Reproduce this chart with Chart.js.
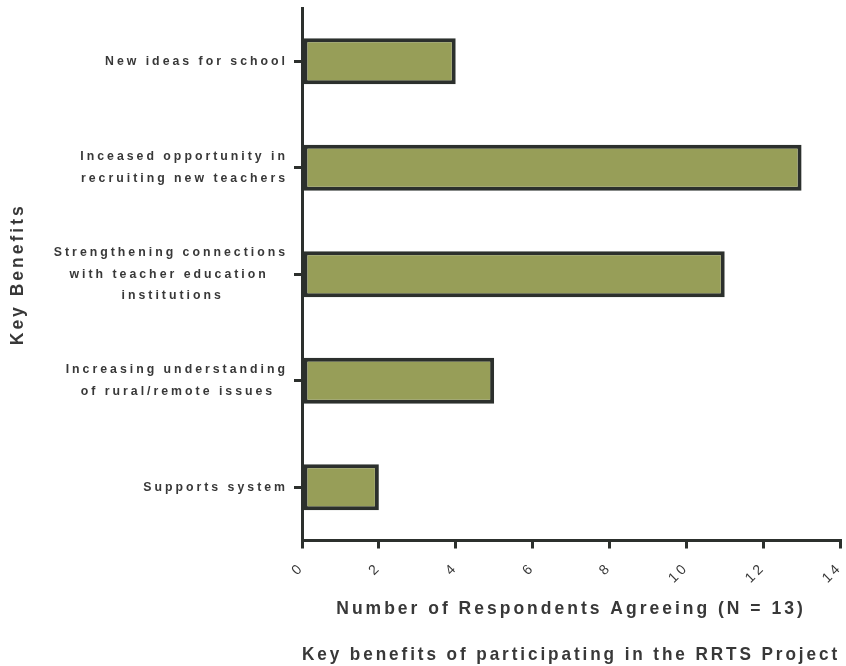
<!DOCTYPE html>
<html>
<head>
<meta charset="utf-8">
<script src="https://cdn.jsdelivr.net/npm/chart.js@4"></script>
<style>
  html, body { margin: 0; padding: 0; background: #fff; }
  #wrap { width: 846px; height: 666px; }
</style>
</head>
<body>
<div id="wrap"><canvas id="benefitsChart" width="846" height="666"></canvas></div>
<script>
// datos
const categories = [
  ['New ideas for school'],
  ['Inceased opportunity in', 'recruiting new teachers'],
  ['Strengthening connections', 'with teacher education', 'institutions'],
  ['Increasing understanding', 'of rural/remote issues'],
  ['Supports system']
];
const respondents = [4, 13, 11, 5, 2];
const xMin = 0, xMax = 14, xStep = 2;

const textColor = '#383838';
const axisColor = '#2c302d';
const labelFont = 'bold 12.3px "Liberation Sans"';

// espaciado entre letras (el canvas pierde el estado al redimensionar)
const spacing = {
  id: 'spacing',
  beforeUpdate(chart) { chart.ctx.letterSpacing = '3px'; },
  beforeLayout(chart) { chart.ctx.letterSpacing = '3px'; },
  beforeDraw(chart) { chart.ctx.letterSpacing = '3px'; }
};

// centrar las lineas de cada etiqueta rellenando con espacios al final
const mctx = document.createElement('canvas').getContext('2d');
mctx.font = labelFont;
mctx.letterSpacing = '3px';
function centerLines(lines) {
  const widths = lines.map(l => mctx.measureText(l).width);
  const maxW = Math.max(...widths);
  const spaceW = mctx.measureText(' ').width;
  return lines.map((l, i) => l + ' '.repeat(Math.round((maxW - widths[i]) / 2 / spaceW)));
}

const ctx = document.getElementById('benefitsChart').getContext('2d');
new Chart(ctx, {
  type: 'bar',
  plugins: [spacing],
  data: {
    labels: categories,
    datasets: [{
      data: respondents,
      backgroundColor: '#979e58',
      borderColor: axisColor,
      borderWidth: 4,
      borderSkipped: false,
      categoryPercentage: 1,
      barPercentage: 0.43
    }]
  },
  options: {
    indexAxis: 'y',
    responsive: false,
    animation: false,
    devicePixelRatio: 1,
    layout: { padding: { left: 8, right: 0, top: 8, bottom: 0 } },
    plugins: {
      legend: { display: false },
      tooltip: { enabled: false },
      title: {
        display: true,
        position: 'bottom',
        fullSize: false,
        text: 'Key benefits of participating in the RRTS Project',
        color: textColor,
        font: { family: 'Liberation Sans', size: 17.8, weight: 'bold' },
        padding: { top: 22, bottom: 0 }
      }
    },
    scales: {
      x: {
        min: xMin,
        max: xMax,
        ticks: {
          stepSize: xStep,
          minRotation: 45,
          maxRotation: 45,
          color: textColor,
          padding: 11,
          font: { family: 'Liberation Sans', size: 14 }
        },
        grid: { drawOnChartArea: false, drawTicks: true, tickLength: 8, lineWidth: 3, color: axisColor },
        border: { color: axisColor, width: 3 },
        title: {
          display: true,
          text: 'Number of Respondents Agreeing (N = 13)',
          color: textColor,
          font: { family: 'Liberation Sans', size: 17.5, weight: 'bold' },
          padding: { top: 1, bottom: 3 }
        },
        afterFit(scale) { scale.paddingRight = 6; scale.paddingLeft = 0; }
      },
      y: {
        ticks: {
          color: textColor,
          padding: 6,
          font: { family: 'Liberation Sans', size: 12.3, weight: 'bold', lineHeight: 1.75 },
          callback: function(value, index) {
            return centerLines(categories[index]);
          }
        },
        grid: { offset: false, drawOnChartArea: false, drawTicks: true, tickLength: 8, lineWidth: 3, color: axisColor },
        border: { color: axisColor, width: 3 },
        title: {
          display: true,
          text: 'Key Benefits',
          color: textColor,
          font: { family: 'Liberation Sans', size: 17.5, weight: 'bold' },
          padding: { top: 0, bottom: 6 }
        },
        afterFit(scale) {
          scale.width = 294;
          scale.paddingTop = 0;
          scale.paddingBottom = 0;
        }
      }
    }
  }
});
</script>
</body>
</html>
